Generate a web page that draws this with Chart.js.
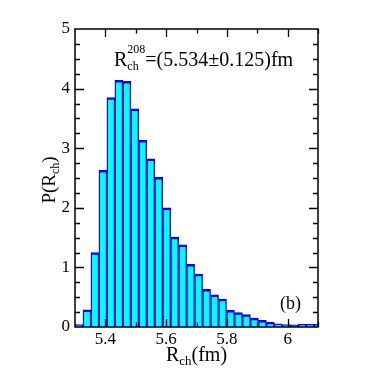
<!DOCTYPE html>
<html>
<head>
<meta charset="utf-8">
<script src="https://cdn.jsdelivr.net/npm/chart.js@4.4.0/dist/chart.umd.min.js"></script>
<style>
  html, body { margin: 0; padding: 0; background: #fff; }
</style>
</head>
<body>
<canvas id="chart-hist" width="374" height="384"></canvas>
<script>
// bin centres (fm) and probability of each bin
const binCenters = [5.3131, 5.3394, 5.3656, 5.3919, 5.4181, 5.4444, 5.4706, 5.4969,
  5.5231, 5.5494, 5.5756, 5.6019, 5.6281, 5.6544, 5.6806, 5.7069, 5.7331, 5.7594,
  5.7856, 5.8119, 5.8381, 5.8644, 5.8906, 5.9169, 5.9431, 5.9694, 5.9956, 6.0219,
  6.0481, 6.0744, 6.1006];
const probValues = [0.04, 0.29, 1.25, 2.63, 3.85, 4.14, 4.12, 3.66,
  3.13, 2.82, 2.51, 2.00, 1.51, 1.38, 1.05, 0.89, 0.63, 0.54,
  0.47, 0.28, 0.24, 0.21, 0.15, 0.11, 0.08, 0.055, 0.04, 0.035,
  0.045, 0.045, 0.045];

const xTicks = [5.4, 5.6, 5.8, 6];
const yTicks = [0, 1, 2, 3, 4, 5];

const SERIF = '"Liberation Serif", "DejaVu Serif", serif';

// draw text made of runs [text, size, dy]
function runsWidth(ctx, runs) {
  let w = 0;
  runs.forEach(r => {
    ctx.font = r[1] + 'px ' + SERIF;
    w += ctx.measureText(r[0]).width;
  });
  return w;
}
function drawRuns(ctx, x, y, runs) {
  let cx = x;
  runs.forEach(r => {
    ctx.font = r[1] + 'px ' + SERIF;
    ctx.fillText(r[0], cx, y + r[2]);
    cx += ctx.measureText(r[0]).width;
  });
}

const framePlugin = {
  id: 'frame',
  afterDatasetsDraw(chart) {
    const ctx = chart.ctx;
    const a = chart.chartArea;
    const xs = chart.scales.x;
    const ys = chart.scales.y;
    ctx.save();
    ctx.strokeStyle = '#000';
    ctx.lineWidth = 1.3;

    // inward ticks, major on labels, minor in between
    ctx.beginPath();
    for (let k = 0; k <= 7; k++) {
      const v = 5.4 + k * 0.1;
      const px = Math.round(xs.getPixelForValue(v)) + 0.5;
      const len = (k % 2 == 0) ? 8 : 4.5;
      ctx.moveTo(px, a.bottom); ctx.lineTo(px, a.bottom - len);
      ctx.moveTo(px, a.top); ctx.lineTo(px, a.top + len);
    }
    for (let k = 1; k < 20; k++) {
      const v = k * 0.25;
      const py = Math.round(ys.getPixelForValue(v)) + 0.5;
      const len = (k % 4 == 0) ? 9 : 5;
      ctx.moveTo(a.left, py); ctx.lineTo(a.left + len, py);
      ctx.moveTo(a.right, py); ctx.lineTo(a.right - len, py);
    }
    ctx.stroke();
    ctx.lineWidth = 1.5;
    ctx.strokeRect(a.left, a.top, a.right - a.left, a.bottom - a.top);

    ctx.fillStyle = '#000';
    ctx.textBaseline = 'alphabetic';
    ctx.textAlign = 'left';

    // x title
    const xr = [['R', 20, 0], ['ch', 13, 4], ['(fm)', 20, 0]];
    drawRuns(ctx, (a.left + a.right) / 2 - runsWidth(ctx, xr) / 2, 361, xr);

    // y title, rotated
    const yr = [['P(R', 19, 0], ['ch', 12, 4], [')', 19, 0]];
    ctx.save();
    ctx.translate(55, (a.top + a.bottom) / 2 + 2);
    ctx.rotate(-Math.PI / 2);
    drawRuns(ctx, -runsWidth(ctx, yr) / 2, 0, yr);
    ctx.restore();

    // annotation R^208_ch=(...)fm
    let tx = 114;
    const base = 66;
    ctx.font = '20px ' + SERIF;
    ctx.fillText('R', tx, base);
    tx += ctx.measureText('R').width;
    ctx.font = '12px ' + SERIF;
    ctx.fillText('208', tx, base - 13);
    const w1 = ctx.measureText('208').width;
    ctx.fillText('ch', tx, base + 4);
    const w2 = ctx.measureText('ch').width;
    tx += Math.max(w1, w2);
    ctx.font = '20px ' + SERIF;
    ctx.fillText('=(5.534\u00b10.125)fm', tx, base);

    // panel label
    ctx.font = '18px ' + SERIF;
    ctx.fillText('(b)', 280, 309);
    ctx.restore();
  }
};

new Chart(document.getElementById('chart-hist').getContext('2d'), {
  type: 'bar',
  data: {
    datasets: [{
      data: binCenters.map((c, i) => ({x: c, y: probValues[i]})),
      backgroundColor: '#00ffff',
      borderColor: '#0000ff',
      borderWidth: {top: 2.5, left: 1.4, right: 1.4, bottom: 0},
      barPercentage: 1,
      categoryPercentage: 1,
    }],
  },
  options: {
    responsive: false,
    animation: false,
    layout: {padding: {left: 0, top: 29, right: 56, bottom: 18}},
    plugins: {
      legend: {display: false},
      tooltip: {enabled: false},
    },
    scales: {
      x: {
        type: 'linear',
        min: 5.3,
        max: 6.1,
        offset: false,
        grid: {display: false, drawTicks: false},
        border: {display: false},
        afterBuildTicks: scale => { scale.ticks = xTicks.map(v => ({value: v})); },
        afterFit: scale => { scale.height = 39; scale.paddingLeft = 0; scale.paddingRight = 0; },
        ticks: {
          color: '#000',
          padding: 2,
          maxRotation: 0,
          font: {family: SERIF, size: 17},
          callback: v => String(v),
        },
      },
      y: {
        min: 0,
        max: 5,
        grid: {display: false, drawTicks: false},
        border: {display: false},
        afterBuildTicks: scale => { scale.ticks = yTicks.map(v => ({value: v})); },
        afterFit: scale => { scale.width = 75; scale.paddingTop = 0; scale.paddingBottom = 0; },
        ticks: {
          color: '#000',
          padding: 5,
          font: {family: SERIF, size: 17},
        },
      },
    },
  },
  plugins: [framePlugin],
});
</script>
</body>
</html>
